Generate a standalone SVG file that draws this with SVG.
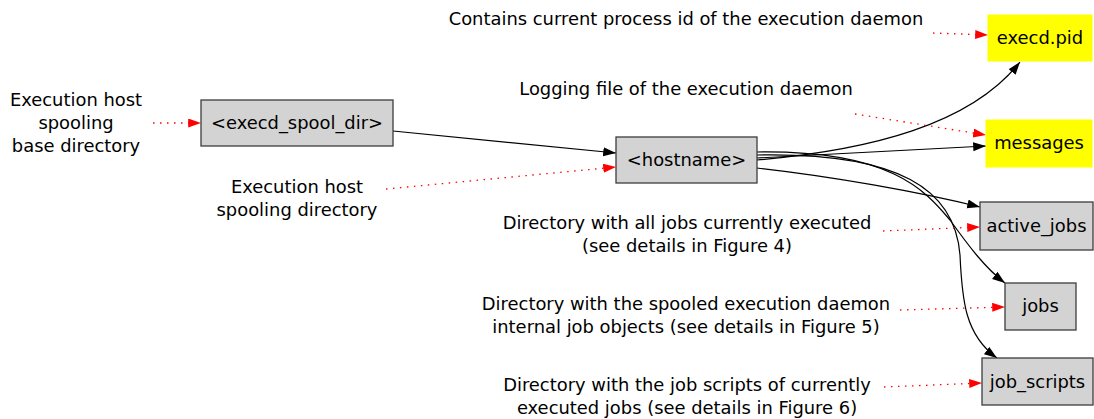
<svg xmlns="http://www.w3.org/2000/svg" width="1094" height="419" viewBox="0 0 1094 419">
<style>
text{font-family:"DejaVu Sans","Liberation Sans",sans-serif;font-size:17.9px;fill:#000;text-anchor:middle}
.box{fill:#d3d3d3;stroke:#3c3c3c;stroke-width:1.3}
.file{fill:#ffff00;stroke:#ffff00}
.e{fill:none;stroke:#000;stroke-width:1.2}
.d{fill:none;stroke:#ff0000;stroke-width:1.3;stroke-dasharray:1.5,5.5}
</style>
<defs>
<marker id="ab" markerUnits="userSpaceOnUse" markerWidth="14" markerHeight="11" refX="12.8" refY="4.5" orient="auto"><path d="M0,0 L12.8,4.5 L0,9 z" fill="#000"/></marker>
<marker id="ar" markerUnits="userSpaceOnUse" markerWidth="14" markerHeight="11" refX="12.8" refY="4.5" orient="auto"><path d="M0,0 L12.8,4.5 L0,9 z" fill="#ff0000"/></marker>
</defs>
<g id="connectors">
<path class="e" d="M393,131 L616,153" marker-end="url(#ab)"/>
<path class="e" d="M757,160 C870,150 970,125 1020,62" marker-end="url(#ab)"/>
<path class="e" d="M757,158 L986,146" marker-end="url(#ab)"/>
<path class="e" d="M757,168 C830,176 920,192 980,207" marker-end="url(#ab)"/>
<path class="e" d="M757,152 C890,150 925,190 950,220 C968,245 985,268 1005,283" marker-end="url(#ab)"/>
<path class="e" d="M757,155 C900,152 955,190 960,255 C962,300 965,335 997,358" marker-end="url(#ab)"/>
<path class="d" d="M153,123 L201,123" marker-end="url(#ar)"/>
<path class="d" d="M386,189 L616,167" marker-end="url(#ar)"/>
<path class="d" d="M933,33 L988,35" marker-end="url(#ar)"/>
<path class="d" d="M855,114 L986,135" marker-end="url(#ar)"/>
<path class="d" d="M883,231 L980,227" marker-end="url(#ar)"/>
<path class="d" d="M900,310 L1005,307" marker-end="url(#ar)"/>
<path class="d" d="M884,387 L982,383" marker-end="url(#ar)"/>
</g>
<g id="n_spool"><rect class="box" x="201" y="100" width="192" height="46"/><text x="297" y="129">&lt;execd_spool_dir&gt;</text></g>
<g id="n_host"><rect class="box" x="616" y="137" width="141" height="46"/><text x="686.5" y="166">&lt;hostname&gt;</text></g>
<g id="n_pid"><rect class="file" x="988" y="15" width="104" height="46"/><text x="1040" y="44">execd.pid</text></g>
<g id="n_msg"><rect class="file" x="986" y="120" width="106" height="47"/><text x="1039" y="149">messages</text></g>
<g id="n_active"><rect class="box" x="980" y="202" width="113" height="48"/><text x="1036.5" y="232">active_jobs</text></g>
<g id="n_jobs"><rect class="box" x="1005" y="283" width="71" height="47"/><text x="1040.5" y="312">jobs</text></g>
<g id="n_scripts"><rect class="box" x="982" y="358" width="111" height="47"/><text x="1037.5" y="388">job_scripts</text></g>
<g id="l_base"><text x="76" y="105.5">Execution host</text><text x="76" y="128.5">spooling</text><text x="76" y="151.5">base directory</text></g>
<g id="l_spool"><text x="297" y="193">Execution host</text><text x="297" y="216">spooling directory</text></g>
<g id="l_pid"><text x="686" y="25">Contains current process id of the execution daemon</text></g>
<g id="l_msg"><text x="686" y="95">Logging file of the execution daemon</text></g>
<g id="l_active"><text x="687" y="229">Directory with all jobs currently executed</text><text x="687" y="252">(see details in Figure 4)</text></g>
<g id="l_jobs"><text x="686" y="310">Directory with the spooled execution daemon</text><text x="686" y="333">internal job objects (see details in Figure 5)</text></g>
<g id="l_scripts"><text x="687" y="391">Directory with the job scripts of currently</text><text x="687" y="414">executed jobs (see details in Figure 6)</text></g>
</svg>
